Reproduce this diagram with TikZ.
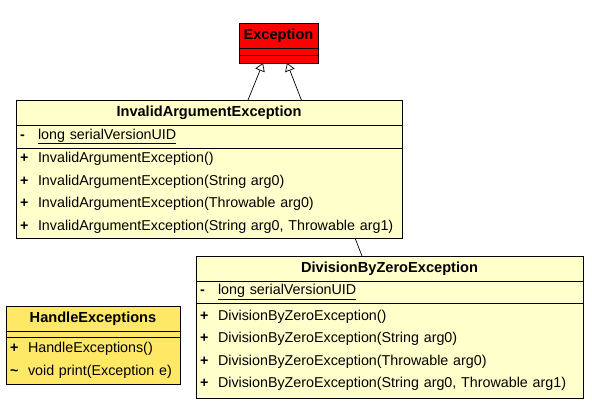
\documentclass[tikz,border=0pt]{standalone}
\usepackage{fontspec}
\setmainfont{Liberation Sans}
\usetikzlibrary{positioning,arrows.meta,backgrounds}
\definecolor{classfill}{HTML}{FFFFCC}
\definecolor{mainfill}{HTML}{FFE866}
\tikzset{
  classhead/.style={draw, anchor=north west, inner sep=0pt, outer sep=0pt, minimum height=25pt,
    font=\bfseries\fontsize{14.6}{16}\selectfont},
  classpart/.style={draw, inner xsep=4pt, inner ysep=0pt, outer sep=0pt, text width=#1, align=left,
    font=\fontsize{14.3}{22.5}\selectfont},
  inherit/.style={line width=0.7pt, -{Triangle[open,length=8pt,width=10pt]}},
}
\newcommand{\vis}[1]{\makebox[18pt][l]{\textbf{#1}}}
\begin{document}
\begin{tikzpicture}[x=1pt,y=-1pt,line width=0.8pt]
  \useasboundingbox (0,0) rectangle (592,406);
  % Exception
  \node[classhead, fill=red, minimum width=79pt] (exc) at (239,23) {Exception};
  \node[classpart=71pt, fill=red, minimum height=7pt, below=0pt of exc] (exc-a) {};
  \node[classpart=71pt, fill=red, minimum height=8pt, below=0pt of exc-a] (exc-m) {};
  % InvalidArgumentException
  \node[classhead, fill=classfill, minimum width=386pt] (iae) at (16,100) {InvalidArgumentException};
  \node[classpart=378pt, fill=classfill, minimum height=23pt, below=0pt of iae] (iae-a)
    {\vis{-}\underline{long serialVersionUID}};
  \node[classpart=378pt, fill=classfill, minimum height=90pt, below=0pt of iae-a] (iae-m)
    {\vis{+}InvalidArgumentException()\\
     \vis{+}InvalidArgumentException(String arg0)\\
     \vis{+}InvalidArgumentException(Throwable arg0)\\
     \vis{+}InvalidArgumentException(String arg0, Throwable arg1)};
  % DivisionByZeroException
  \node[classhead, fill=classfill, minimum width=387pt] (dbz) at (196,256) {DivisionByZeroException};
  \node[classpart=379pt, fill=classfill, minimum height=22pt, below=0pt of dbz] (dbz-a)
    {\vis{-}\underline{long serialVersionUID}};
  \node[classpart=379pt, fill=classfill, minimum height=95pt, below=0pt of dbz-a] (dbz-m)
    {\vis{+}DivisionByZeroException()\\
     \vis{+}DivisionByZeroException(String arg0)\\
     \vis{+}DivisionByZeroException(Throwable arg0)\\
     \vis{+}DivisionByZeroException(String arg0, Throwable arg1)};
  % HandleExceptions
  \node[classhead, fill=mainfill, minimum width=174pt] (he) at (6,306) {HandleExceptions};
  \node[classpart=166pt, fill=mainfill, minimum height=6pt, below=0pt of he] (he-a) {};
  \node[classpart=166pt, fill=mainfill, minimum height=47pt, below=0pt of he-a] (he-m)
    {\vis{+}HandleExceptions()\\
     \vis{\textasciitilde}void print(Exception e)};
  % generalizations
  \begin{scope}[on background layer]
    \draw[inherit] ([xshift=39pt]iae.north) -- ([xshift=-15.5pt]exc-m.south);
    \draw[inherit] ([xshift=-27.5pt]dbz.north) -- ([xshift=8.5pt]exc-m.south);
  \end{scope}
\end{tikzpicture}
\end{document}
